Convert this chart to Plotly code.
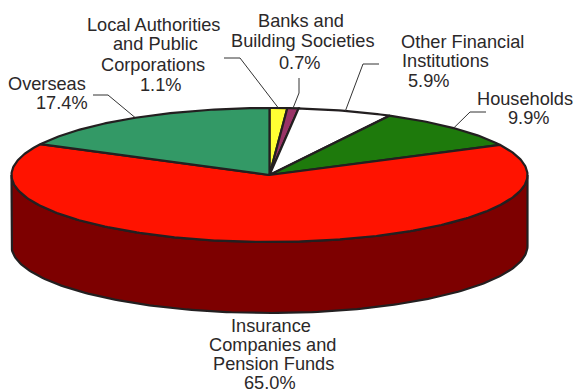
import numpy as np
import plotly.graph_objects as go

# Holdings by sector, clockwise from twelve o'clock
categories = ["Local Authorities and Public Corporations", "Banks and Building Societies",
              "Other Financial Institutions", "Households",
              "Insurance Companies and Pension Funds", "Overseas"]
shares = [1.1, 0.7, 5.9, 9.9, 65.0, 17.4]
top_colors = ["#ffff33", "#993366", "#ffffff", "#1e7a0c", "#ff1300", "#339966"]
wall_colors = ["#7f7f19", "#4c1933", "#7f7f7f", "#0f3d06", "#7d0000", "#194c33"]

# Label text, one entry per printed line, with its centre position in pixels
label_lines = [
    ("Local Authorities", 153, 25), ("and Public", 155, 44), ("Corporations", 153, 65), ("1.1%", 160, 85),
    ("Banks and", 301, 21), ("Building Societies", 303, 41), ("0.7%", 299, 63),
    ("Other Financial", 462, 42), ("Institutions", 445, 61), ("5.9%", 428, 81),
    ("Households", 525, 99), ("9.9%", 528, 118),
    ("Overseas", 47, 84), ("17.4%", 62, 103),
    ("Insurance", 271, 325.5), ("Companies and", 272, 344.5), ("Pension Funds", 273, 364), ("65.0%", 270, 383),
]

# Kinks of each leader line beyond the rim, in pixels
leader_bends = [
    [(240, 58), (224, 58)],
    [(299, 93), (299, 78)],
    [(363, 64), (379, 64)],
    [(470, 112), (486, 112)],
    [(108, 95), (93, 95)],
]
leader_slices = [0, 1, 2, 3, 5]

CX, CY, RX, RY, DEPTH = 269.5, 175, 258, 67, 71
INK = "#231f20"


def rim(angle):
    """Point on the top ellipse; angle in radians clockwise from the top."""
    return CX + RX * np.sin(angle), CY - RY * np.cos(angle)


edges = 2 * np.pi * np.cumsum([0] + shares) / sum(shares)
fig = go.Figure()


def add_shape(xs, ys, fill):
    fig.add_trace(go.Scatter(x=xs, y=ys, mode="lines", fill="toself", fillcolor=fill,
                             line=dict(color=INK, width=2.2), hoverinfo="skip"))


# Outer wall: only the front half of the cylinder is visible
for start, stop, color in zip(edges[:-1], edges[1:], wall_colors):
    lo, hi = max(start, np.pi / 2), min(stop, 3 * np.pi / 2)
    if hi > lo:
        t = np.linspace(lo, hi, 160)
        x, y = rim(t)
        add_shape(np.r_[x, x[::-1], x[0]], np.r_[y, y[::-1] + DEPTH, y[0]], color)

# Top face
for start, stop, color in zip(edges[:-1], edges[1:], top_colors):
    t = np.linspace(start, stop, max(8, int((stop - start) * 80)))
    x, y = rim(t)
    add_shape(np.r_[CX, x, CX], np.r_[CY, y, CY], color)

# Leader lines run from each slice's rim midpoint to its label
for i, bends in zip(leader_slices, leader_bends):
    x0, y0 = rim((edges[i] + edges[i + 1]) / 2)
    fig.add_trace(go.Scatter(x=[x0] + [b[0] for b in bends], y=[y0] + [b[1] for b in bends],
                             mode="lines", line=dict(color="#333333", width=1), hoverinfo="skip"))

annotations = [
    dict(x=x, y=y, text=text, showarrow=False, xanchor="center", yanchor="middle",
         font=dict(family="Liberation Sans", size=18.2, color="#2b2829"))
    for text, x, y in label_lines
]

fig.update_layout(
    width=574, height=392, margin=dict(l=0, r=0, t=0, b=0),
    paper_bgcolor="white", plot_bgcolor="white", showlegend=False,
    xaxis=dict(range=[0, 574], visible=False, fixedrange=True),
    yaxis=dict(range=[392, 0], visible=False, fixedrange=True),
    annotations=annotations,
)
fig.write_html("out.html", config=dict(displayModeBar=False))
